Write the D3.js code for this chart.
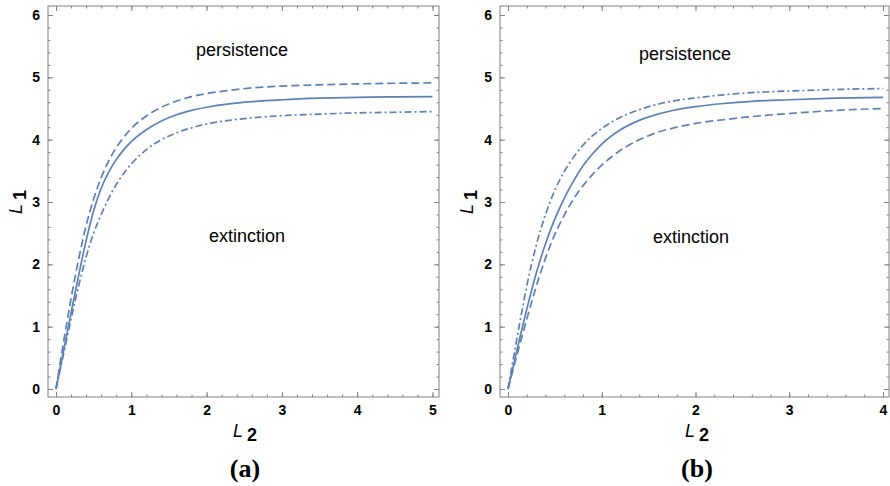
<!DOCTYPE html>
<html>
<head>
<meta charset="utf-8">
<script src="https://cdn.jsdelivr.net/npm/d3@7"></script>
<style>
  body { margin: 0; background: #fff; }
  svg { display: block; font-family: "Liberation Sans", Arial, sans-serif; }
  .tick text { font-weight: bold; font-size: 14px; fill: #000; }
  .tick line { stroke: #808080; }
</style>
</head>
<body>
<svg id="chart" width="890" height="486"></svg>
<script>
// panel (a)
const aSolidL2 = [0, 0.1, 0.2, 0.3, 0.4, 0.5, 0.6, 0.7, 0.8, 0.9, 1.0, 1.2, 1.4, 1.6, 1.8, 2.0, 2.3, 2.6, 3, 3.5, 4, 4.5, 5];
const aSolidL1 = [0, 0.61, 1.22, 1.82, 2.38, 2.86, 3.22, 3.48, 3.68, 3.84, 3.97, 4.16, 4.3, 4.4, 4.47, 4.52, 4.575, 4.61, 4.64, 4.665, 4.68, 4.687, 4.692];
const aDashL2 = [0, 0.1, 0.2, 0.3, 0.4, 0.5, 0.6, 0.7, 0.8, 0.9, 1.0, 1.2, 1.4, 1.6, 1.8, 2.0, 2.3, 2.6, 3, 3.5, 4, 4.5, 5];
const aDashL1 = [0, 0.75, 1.45, 2.08, 2.62, 3.05, 3.39, 3.66, 3.87, 4.04, 4.18, 4.38, 4.52, 4.62, 4.69, 4.74, 4.79, 4.83, 4.86, 4.88, 4.895, 4.905, 4.91];
const aDotL2 = [0, 0.1, 0.2, 0.3, 0.4, 0.5, 0.6, 0.7, 0.8, 0.9, 1.0, 1.2, 1.4, 1.6, 1.8, 2.0, 2.3, 2.6, 3, 3.5, 4, 4.5, 5];
const aDotL1 = [0, 0.56, 1.12, 1.65, 2.12, 2.5, 2.8, 3.06, 3.28, 3.46, 3.61, 3.84, 4.0, 4.11, 4.19, 4.25, 4.31, 4.35, 4.385, 4.41, 4.43, 4.44, 4.45];

// panel (b)
const bSolidL2 = [0, 0.1, 0.2, 0.3, 0.4, 0.5, 0.6, 0.7, 0.8, 0.9, 1.0, 1.2, 1.4, 1.6, 1.8, 2.0, 2.3, 2.6, 3, 3.5, 4];
const bSolidL1 = [0, 0.65, 1.28, 1.85, 2.33, 2.73, 3.06, 3.34, 3.58, 3.77, 3.93, 4.16, 4.31, 4.41, 4.48, 4.53, 4.58, 4.615, 4.64, 4.665, 4.68];
const bDashL2 = [0, 0.1, 0.2, 0.3, 0.4, 0.5, 0.6, 0.7, 0.8, 0.9, 1.0, 1.2, 1.4, 1.6, 1.8, 2.0, 2.3, 2.6, 3, 3.5, 4];
const bDashL1 = [0, 0.57, 1.12, 1.64, 2.1, 2.48, 2.79, 3.05, 3.26, 3.44, 3.59, 3.83, 4.0, 4.12, 4.2, 4.26, 4.32, 4.37, 4.42, 4.47, 4.5];
const bDotL2 = [0, 0.1, 0.2, 0.3, 0.4, 0.5, 0.6, 0.7, 0.8, 0.9, 1.0, 1.2, 1.4, 1.6, 1.8, 2.0, 2.3, 2.6, 3, 3.5, 4];
const bDotL1 = [0, 0.85, 1.65, 2.3, 2.8, 3.19, 3.49, 3.72, 3.91, 4.06, 4.18, 4.36, 4.48, 4.57, 4.63, 4.67, 4.72, 4.755, 4.78, 4.805, 4.82];

const xTicksA = [0, 1, 2, 3, 4, 5];
const xTicksB = [0, 1, 2, 3, 4];
const yTicks = [0, 1, 2, 3, 4, 5, 6];
const regionLabels = ["persistence", "extinction"];
const panelLabels = ["(a)", "(b)"];

const lineColor = "#5e81b5";
const svg = d3.select("#chart");

function zipPts(xs, ys) {
  return xs.map((v, i) => [v, ys[i]]);
}

function drawPanel(p) {
  const g = svg.append("g");
  const x = d3.scaleLinear().domain([0, p.xMax]).range([p.x0, p.x1]);
  const y = d3.scaleLinear().domain([0, 6]).range([389, 15]);
  const frame = { l: p.fl, r: p.fr, t: 6, b: 397 };

  // minor ticks every 0.2
  const xMinor = d3.range(0, p.xMax + 0.001, 0.2).map(v => +v.toFixed(1));
  const yMinor = d3.range(0, 6.001, 0.2).map(v => +v.toFixed(1));

  const mk = (axis, sel) => { axis(sel); sel.select(".domain").remove(); return sel; };

  mk(d3.axisBottom(x).tickValues(xMinor).tickSize(-2.5).tickFormat(""), g.append("g").attr("transform", `translate(0,${frame.b})`));
  mk(d3.axisBottom(x).tickValues(p.xTicks).tickSize(-5).tickPadding(8).tickFormat(d3.format("d")), g.append("g").attr("transform", `translate(0,${frame.b})`));
  mk(d3.axisTop(x).tickValues(xMinor).tickSize(-2.5).tickFormat(""), g.append("g").attr("transform", `translate(0,${frame.t})`));
  mk(d3.axisTop(x).tickValues(p.xTicks).tickSize(-5).tickFormat(""), g.append("g").attr("transform", `translate(0,${frame.t})`));

  mk(d3.axisLeft(y).tickValues(yMinor).tickSize(-2.5).tickFormat(""), g.append("g").attr("transform", `translate(${frame.l},0)`));
  mk(d3.axisLeft(y).tickValues(yTicks).tickSize(-5).tickPadding(8).tickFormat(d3.format("d")), g.append("g").attr("transform", `translate(${frame.l},0)`));
  mk(d3.axisRight(y).tickValues(yMinor).tickSize(-2.5).tickFormat(""), g.append("g").attr("transform", `translate(${frame.r},0)`));
  mk(d3.axisRight(y).tickValues(yTicks).tickSize(-5).tickFormat(""), g.append("g").attr("transform", `translate(${frame.r},0)`));

  g.append("rect")
    .attr("x", frame.l).attr("y", frame.t)
    .attr("width", frame.r - frame.l).attr("height", frame.b - frame.t)
    .attr("fill", "none").attr("stroke", "#808080").attr("stroke-width", 1);

  const line = d3.line().x(d => x(d[0])).y(d => y(d[1])).curve(d3.curveMonotoneX);

  p.series.forEach(s => {
    g.append("path")
      .datum(zipPts(s.xs, s.ys))
      .attr("d", line)
      .attr("fill", "none")
      .attr("stroke", lineColor)
      .attr("stroke-width", 1.7)
      .attr("stroke-dasharray", s.dash);
  });

  // region labels
  g.append("text").attr("x", p.persX).attr("y", p.persY)
    .attr("text-anchor", "middle").attr("font-size", 18).text(regionLabels[0]);
  g.append("text").attr("x", p.extX).attr("y", p.extY)
    .attr("text-anchor", "middle").attr("font-size", 18).text(regionLabels[1]);

  // axis titles
  const xt = g.append("text").attr("x", p.xLabX).attr("y", 437).attr("font-size", 18);
  xt.append("tspan").attr("font-style", "italic").text("L");
  xt.append("tspan").attr("font-weight", "bold").attr("dx", 4).attr("dy", 4).text("2");

  const yt = g.append("text")
    .attr("transform", `translate(${p.yLabX},214) rotate(-90)`).attr("font-size", 18);
  yt.append("tspan").attr("font-style", "italic").text("L");
  yt.append("tspan").attr("font-weight", "bold").attr("dx", 4).attr("dy", 4).text("1");

  // panel caption
  g.append("text").attr("x", p.capX).attr("y", 477)
    .attr("text-anchor", "middle")
    .attr("font-family", "'Liberation Serif', 'Times New Roman', serif")
    .attr("font-weight", "bold").attr("font-size", 26)
    .text(p.caption);
}

drawPanel({
  xMax: 5, x0: 56, x1: 432.5, fl: 48, fr: 439, xTicks: xTicksA,
  series: [
    { xs: aSolidL2, ys: aSolidL1, dash: null },
    { xs: aDashL2, ys: aDashL1, dash: "8,4" },
    { xs: aDotL2, ys: aDotL1, dash: "7,3,2,3" }
  ],
  persX: 242, persY: 56, extX: 247, extY: 242,
  xLabX: 233, yLabX: 22, capX: 245, caption: panelLabels[0]
});

drawPanel({
  xMax: 4, x0: 508, x1: 883, fl: 500, fr: 889, xTicks: xTicksB,
  series: [
    { xs: bSolidL2, ys: bSolidL1, dash: null },
    { xs: bDashL2, ys: bDashL1, dash: "8,4" },
    { xs: bDotL2, ys: bDotL1, dash: "7,3,2,3" }
  ],
  persX: 685, persY: 60, extX: 691, extY: 243,
  xLabX: 685, yLabX: 473, capX: 697, caption: panelLabels[1]
});
</script>
</body>
</html>
